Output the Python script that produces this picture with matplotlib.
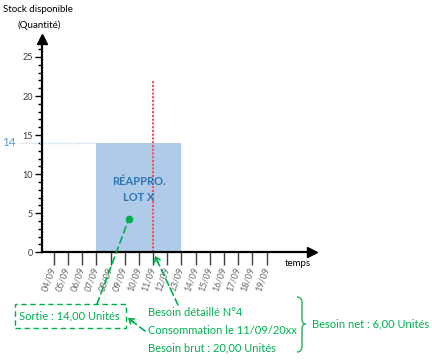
import matplotlib.pyplot as plt
import matplotlib.patches as mpatches
from matplotlib.path import Path

# ---------------------------------------------------------------
# Data
# ---------------------------------------------------------------
days = list(range(4, 20))
day_labels = [f"{d:02d}/09" for d in days]
y_major = [0, 5, 10, 15, 20, 25]
y_minor = list(range(0, 27))

reappro_start = 7      # 07/09
reappro_end = 13       # 13/09
reappro_qty = 14
besoin_day = 11        # 11/09
besoin_top = 22
sortie_point = (9.3, 4.3)

GREEN = "#00b050"
BLUE_TXT = "#2e75b6"
BAR = "#afcbe9"
W, H = 432, 361

plt.rcParams['font.family'] = ['Lato', 'DejaVu Sans']

fig = plt.figure(figsize=(W / 100, H / 100), dpi=100)
ax = fig.add_axes([41.7 / W, 1 - 252.3 / H, (312 - 41.7) / W, (252.3 - 39) / H])
ax.set_xlim(3.15, 22.2)
ax.set_ylim(0, 27.3)


def px(x, y):
    # pixel from top-left -> figure fraction
    return (x / W, 1 - y / H)


# bar + lines
ax.bar(reappro_start, reappro_qty, width=reappro_end - reappro_start, align='edge',
       color=BAR, zorder=1)
ax.plot([besoin_day, besoin_day], [0, besoin_top], color="#ff4d4d", lw=1.5,
        linestyle=(0, (1, 0.8)), zorder=2)
ax.plot([1.6, reappro_start], [reappro_qty, reappro_qty], color="#bdd7ee", lw=1,
        linestyle=(0, (1, 1)), clip_on=False)
ax.plot(*sortie_point, 'o', color=GREEN, ms=4.5, zorder=4)
ax.text((reappro_start + reappro_end) / 2, 8.05, "RÉAPPRO.\nLOT X", ha='center', va='center',
        color=BLUE_TXT, fontsize=8, fontweight='bold', linespacing=1.6)

# axes styling
for s in ['top', 'right']:
    ax.spines[s].set_visible(False)
for s in ['left', 'bottom']:
    ax.spines[s].set_linewidth(1.6)
ax.plot(1, 0, '>', color='black', ms=7, transform=ax.transAxes, clip_on=False)
ax.plot(0, 1, '^', color='black', ms=7, transform=ax.transAxes, clip_on=False)

ax.set_yticks(y_major)
ax.set_yticks(y_minor, minor=True)
ax.tick_params(axis='y', which='major', length=5, width=1, labelsize=6.5, pad=1.5,
               labelcolor='#3a3a3a')
ax.tick_params(axis='y', which='minor', length=3, width=1)
ax.set_xticks(days)
ax.set_xticklabels(day_labels, rotation=70, ha='right', va='center', rotation_mode='anchor',
                   fontsize=6.5, color='#6a6a6a')
ax.tick_params(axis='x', length=9, width=1, color='#404040', pad=2)

# texts around the axes
fig.text(*px(38, 9), "Stock disponible", ha='center', va='center', fontsize=7)
fig.text(*px(39, 25), "(Quantité)", ha='center', va='center', fontsize=7)
fig.text(*px(9, 143), "14", ha='center', va='center', fontsize=8.5, color="#5b9bd5")
fig.text(*px(298, 263), "temps", ha='center', va='center', fontsize=7)

fig.text(*px(19, 316), "Sortie : 14,00 Unités", ha='left', va='center', fontsize=8, color=GREEN)
fig.text(*px(148, 312), "Besoin détaillé N°4", ha='left', va='center', fontsize=8, color=GREEN)
fig.text(*px(148, 330), "Consommation le 11/09/20xx", ha='left', va='center', fontsize=8, color=GREEN)
fig.text(*px(148, 348), "Besoin brut : 20,00 Unités", ha='left', va='center', fontsize=8, color=GREEN)
fig.text(*px(312, 324), "Besoin net : 6,00 Unités", ha='left', va='center', fontsize=8, color=GREEN)

# dashed box around "Sortie"
x0, y0 = px(15, 328)
x1, y1 = px(126, 304)
fig.add_artist(mpatches.Rectangle((x0, y0), x1 - x0, y1 - y0, transform=fig.transFigure,
                                  fill=False, edgecolor=GREEN, lw=1, linestyle=(0, (4, 2.5))))

# dashed connector from the box to the dot
ax.annotate("", xy=sortie_point, xycoords='data', xytext=px(97, 304), textcoords='figure fraction',
            arrowprops=dict(arrowstyle='-', color=GREEN, lw=1.2, linestyle=(0, (4, 2.5)),
                            shrinkA=0, shrinkB=0))


def dashed_arrow(tip, start):
    fig.add_artist(mpatches.FancyArrowPatch(px(*start), px(*tip), transform=fig.transFigure,
                                            arrowstyle='-', color=GREEN, lw=1.2,
                                            linestyle=(0, (4, 2.5)), shrinkA=0, shrinkB=0))
    dx, dy = start[0] - tip[0], start[1] - tip[1]
    n = (dx ** 2 + dy ** 2) ** 0.5
    back = (tip[0] + dx / n * 7, tip[1] + dy / n * 7)
    fig.add_artist(mpatches.FancyArrowPatch(px(*back), px(*tip), transform=fig.transFigure,
                                            arrowstyle='->,head_length=3,head_width=2.2',
                                            color=GREEN, lw=1.2, shrinkA=0, shrinkB=0))


dashed_arrow((155, 256), (178, 305))
dashed_arrow((128, 318), (145, 331))

# curly brace
bx, btop, bbot, bmid = 297, 297, 352, 324
verts = [(bx, btop), (bx + 5, btop), (bx + 5, btop + 6),
         (bx + 5, bmid - 5), (bx + 5, bmid), (bx + 9, bmid),
         (bx + 5, bmid), (bx + 5, bmid + 5),
         (bx + 5, bbot - 6), (bx + 5, bbot), (bx, bbot)]
codes = [Path.MOVETO, Path.CURVE3, Path.CURVE3,
         Path.LINETO, Path.CURVE3, Path.CURVE3,
         Path.CURVE3, Path.CURVE3,
         Path.LINETO, Path.CURVE3, Path.CURVE3]
brace = Path([px(*v) for v in verts], codes)
fig.add_artist(mpatches.PathPatch(brace, transform=fig.transFigure, fill=False,
                                  edgecolor="#3cb371", lw=1.1))

fig.savefig("out.png", dpi=100)
